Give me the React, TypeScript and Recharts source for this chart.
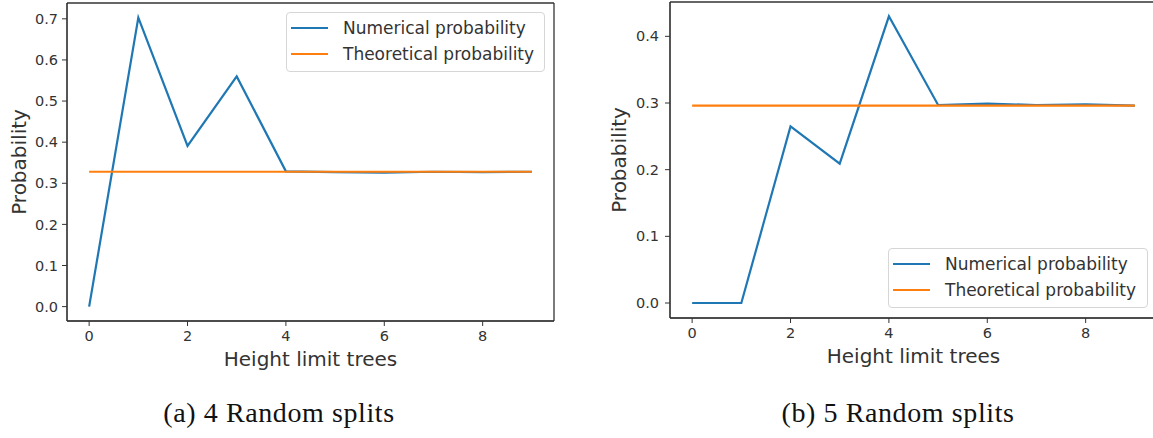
import { CartesianGrid, Legend, Line, LineChart, XAxis, YAxis } from "recharts";

// values
const heights = [0, 1, 2, 3, 4, 5, 6, 7, 8, 9];
const numerical4 = [0, 0.703, 0.391, 0.56, 0.329, 0.327, 0.326, 0.328, 0.327, 0.328];
const theoretical4 = [0.328, 0.328, 0.328, 0.328, 0.328, 0.328, 0.328, 0.328, 0.328, 0.328];
const numerical5 = [0, 0, 0.265, 0.209, 0.43, 0.297, 0.299, 0.297, 0.298, 0.296];
const theoretical5 = [0.296, 0.296, 0.296, 0.296, 0.296, 0.296, 0.296, 0.296, 0.296, 0.296];

const xTicks = [0, 2, 4, 6, 8];
const yTicks4 = [0, 0.1, 0.2, 0.3, 0.4, 0.5, 0.6, 0.7];
const yTicks5 = [0, 0.1, 0.2, 0.3, 0.4];
const seriesNames = ["Numerical probability", "Theoretical probability"];
const xLabel = "Height limit trees";
const yLabel = "Probability";
const captions = ["(a) 4 Random splits", "(b) 5 Random splits"];

const BLUE = "#1f77b4";
const ORANGE = "#ff7f0e";
const INK = "#333333";
const SANS = "'DejaVu Sans', Verdana, sans-serif";
const SERIF = "'Liberation Serif', 'DejaVu Serif', serif";

function BoxLegend({ payload, width }: any) {
  return (
    <div
      style={{
        boxSizing: "border-box",
        width,
        border: "1px solid #d6d6d6",
        borderRadius: 4,
        background: "rgba(255,255,255,0.85)",
        padding: "2px 0 4px 4px",
        fontFamily: SANS,
        fontSize: 17,
        color: INK,
      }}
    >
      {(payload ?? []).map((item: any) => (
        <div key={item.value} style={{ display: "flex", alignItems: "center", height: 26 }}>
          <span
            style={{
              display: "inline-block",
              width: 37,
              height: 2.2,
              marginRight: 15,
              background: item.color,
            }}
          />
          <span style={{ whiteSpace: "nowrap" }}>{item.value}</span>
        </div>
      ))}
    </div>
  );
}

interface PanelProps {
  numerical: number[];
  theoretical: number[];
  yDomain: [number, number];
  yTicks: number[];
  width: number;
  margin: { top: number; right: number; bottom: number; left: number };
  yAxisWidth: number;
  xAxisHeight: number;
  yTickMargin: number;
  yLabelOffset: number;
  legend: { left: number; top: number; width: number };
}

function Panel(props: PanelProps) {
  const data = heights.map((h, i) => ({
    height: h,
    numerical: props.numerical[i],
    theoretical: props.theoretical[i],
  }));
  const tickStyle = { fontSize: 14.5, fill: INK, fontFamily: SANS };

  return (
    <LineChart width={props.width} height={390} data={data} margin={props.margin}>
      {/* full matplotlib-style box around the plot */}
      <CartesianGrid
        stroke={INK}
        strokeWidth={1.3}
        horizontalCoordinatesGenerator={({ offset }: any) => [offset.top, offset.top + offset.height]}
        verticalCoordinatesGenerator={({ offset }: any) => [offset.left, offset.left + offset.width]}
      />
      <XAxis
        dataKey="height"
        type="number"
        domain={[-0.45, 9.45]}
        allowDataOverflow
        ticks={xTicks}
        height={props.xAxisHeight}
        tickSize={5}
        tickMargin={5}
        stroke={INK}
        tick={tickStyle}
        label={{
          value: xLabel,
          position: "insideTop",
          offset: 31,
          style: { fontSize: 20, fill: INK, fontFamily: SANS },
        }}
      />
      <YAxis
        type="number"
        domain={props.yDomain}
        allowDataOverflow
        ticks={props.yTicks}
        width={props.yAxisWidth}
        tickSize={5}
        tickMargin={props.yTickMargin}
        stroke={INK}
        tick={tickStyle}
        tickFormatter={(v: number) => v.toFixed(1)}
        label={{
          value: yLabel,
          angle: -90,
          position: "insideLeft",
          offset: props.yLabelOffset,
          style: { fontSize: 20, fill: INK, fontFamily: SANS, textAnchor: "middle" },
        }}
      />
      <Legend
        layout="vertical"
        align="center"
        verticalAlign="middle"
        wrapperStyle={{ left: props.legend.left, top: props.legend.top, width: props.legend.width, height: "auto" }}
        content={(p: any) => <BoxLegend payload={p.payload} width={props.legend.width} />}
      />
      <Line
        type="linear"
        dataKey="numerical"
        name={seriesNames[0]}
        stroke={BLUE}
        strokeWidth={2.2}
        dot={false}
        activeDot={false}
        isAnimationActive={false}
      />
      <Line
        type="linear"
        dataKey="theoretical"
        name={seriesNames[1]}
        stroke={ORANGE}
        strokeWidth={2.2}
        dot={false}
        activeDot={false}
        isAnimationActive={false}
      />
    </LineChart>
  );
}

export default function App() {
  const captionStyle = {
    position: "absolute" as const,
    top: 398,
    width: 400,
    textAlign: "center" as const,
    fontFamily: SERIF,
    fontSize: 28,
    lineHeight: "30px",
    letterSpacing: 0.6,
    color: "#111",
  };

  return (
    <div
      style={{
        position: "absolute",
        left: 0,
        top: 0,
        width: 1153,
        height: 438,
        overflow: "hidden",
        background: "#fff",
      }}
    >
      <div style={{ position: "absolute", left: 0, top: 0 }}>
        <Panel
          numerical={numerical4}
          theoretical={theoretical4}
          yDomain={[-0.035, 0.7385]}
          yTicks={yTicks4}
          width={560}
          margin={{ top: 3, right: 6, bottom: 0, left: 0 }}
          yAxisWidth={67}
          xAxisHeight={69}
          yTickMargin={4}
          yLabelOffset={19}
          legend={{ left: 286, top: 12, width: 259 }}
        />
      </div>
      <div style={{ position: "absolute", left: 590, top: 0, width: 563, height: 390, overflow: "hidden" }}>
        <Panel
          numerical={numerical5}
          theoretical={theoretical5}
          yDomain={[-0.0225, 0.4515]}
          yTicks={yTicks5}
          width={570}
          margin={{ top: 2, right: 3, bottom: 0, left: 0 }}
          yAxisWidth={80}
          xAxisHeight={72}
          yTickMargin={6}
          yLabelOffset={29}
          legend={{ left: 298, top: 248, width: 260 }}
        />
      </div>
      <div style={{ ...captionStyle, left: 279 - 200 }}>{captions[0]}</div>
      <div style={{ ...captionStyle, left: 898 - 200 }}>{captions[1]}</div>
    </div>
  );
}
